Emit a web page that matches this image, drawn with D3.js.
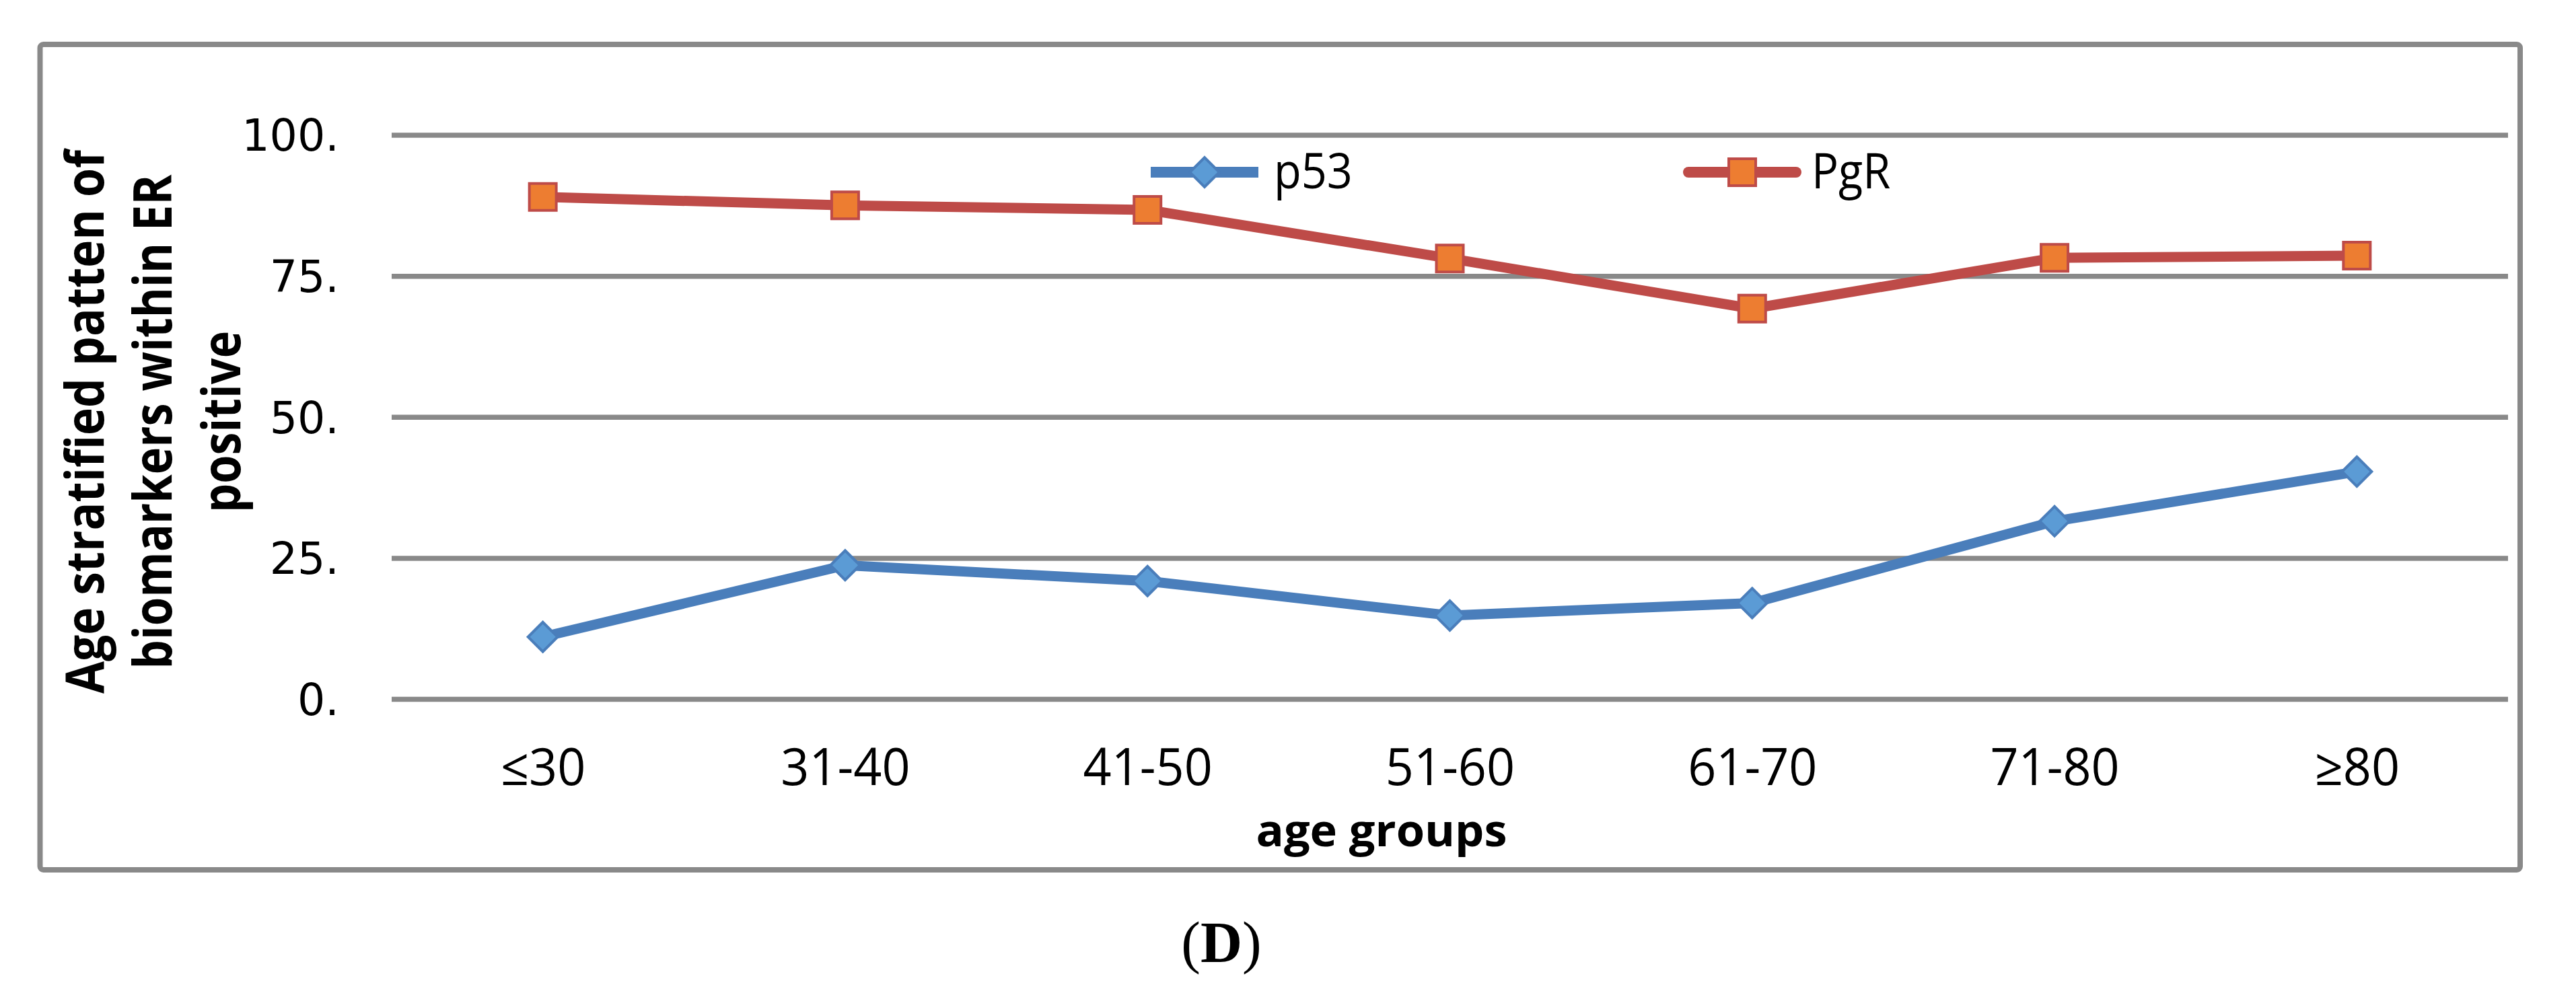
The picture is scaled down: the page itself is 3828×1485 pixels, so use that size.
<!DOCTYPE html>
<html>
<head>
<meta charset="utf-8">
<script src="https://cdn.jsdelivr.net/npm/d3@7"></script>
<style>
  body { margin: 0; background: #fff; }
  svg { display: block; }
</style>
</head>
<body>
<div id="chart"></div>
<script>
// chart values
const ageGroups = ['≤30', '31-40', '41-50', '51-60', '61-70', '71-80', '≥80'];
const p53Values = [11.0, 23.7, 20.9, 14.8, 17.0, 31.5, 40.3];
const pgrValues = [89.0, 87.5, 86.7, 78.1, 69.2, 78.2, 78.6];
const yTicks = [0, 25, 50, 75, 100];
const seriesNames = ['p53', 'PgR'];
const yTitleLines = ['Age stratified patten of', 'biomarkers within ER', 'positive'];
const xTitle = 'age groups';
const panelLabel = 'D';

const width = 3828;
const height = 1485;
const plot = {
  left: 582, right: 3727, top: 200.5, bottom: 1039,
};
const gridColor = '#898989';
const calibri = '"Open Sans", "Noto Sans", sans-serif';

const svg = d3.select('#chart')
  .append('svg')
  .attr('width', width)
  .attr('height', height)
  .attr('viewBox', [0, 0, width, height]);

svg.append('rect')
  .attr('width', width)
  .attr('height', height)
  .attr('fill', '#fff');

// chart frame
svg.append('rect')
  .attr('x', 59.5)
  .attr('y', 66)
  .attr('width', 3745 - 59.5)
  .attr('height', 1293 - 66)
  .attr('rx', 5)
  .attr('fill', 'none')
  .attr('stroke', gridColor)
  .attr('stroke-width', 8);

const x = d3.scalePoint()
  .domain(ageGroups)
  .range([plot.left, plot.right])
  .padding(0.5);

const y = d3.scaleLinear()
  .domain([0, 100])
  .range([plot.bottom, plot.top]);

// horizontal gridlines
svg.append('g')
  .attr('transform', `translate(${plot.left},0)`)
  .call(d3.axisLeft(y).tickValues(yTicks).tickSize(-(plot.right - plot.left)).tickFormat(''))
  .call((g) => g.select('.domain').remove())
  .call((g) => g.selectAll('.tick line')
    .attr('stroke', gridColor)
    .attr('stroke-width', 7.5));

// y tick labels
svg.append('g')
  .attr('transform', `translate(${plot.left},0)`)
  .call(d3.axisLeft(y).tickValues(yTicks).tickSize(0).tickPadding(78)
    .tickFormat((d) => `${d}.`))
  .call((g) => g.select('.domain').remove())
  .call((g) => g.selectAll('.tick text')
    .attr('fill', '#000')
    .attr('font-family', '"DejaVu Sans", sans-serif')
    .attr('font-size', 65)
    .attr('dy', '0.36em'));

// x tick labels
svg.append('g')
  .attr('transform', `translate(0,${plot.bottom})`)
  .call(d3.axisBottom(x).tickSize(0))
  .call((g) => g.select('.domain').remove())
  .call((g) => g.selectAll('.tick text')
    .attr('fill', '#000')
    .attr('font-family', calibri)
    .attr('font-size', 76)
    .attr('y', 128)
    .attr('dy', 0)
    .attr('transform', 'scale(0.97,1)'));

const diamond = d3.symbol(d3.symbolSquare, 31 * 31);
const square = d3.symbol(d3.symbolSquare, 40 * 40);

const series = [
  {
    name: seriesNames[0], values: p53Values, color: '#4A7EBB', fill: '#5B9BD5', symbol: diamond, rotate: 45, cap: 'butt',
  },
  {
    name: seriesNames[1], values: pgrValues, color: '#BE4B48', fill: '#ED7D31', symbol: square, rotate: 0, cap: 'round',
  },
];

const line = d3.line()
  .x((d, i) => x(ageGroups[i]))
  .y((d) => y(d));

series.forEach((s) => {
  svg.append('path')
    .datum(s.values)
    .attr('fill', 'none')
    .attr('stroke', s.color)
    .attr('stroke-width', 15)
    .attr('stroke-linejoin', 'round')
    .attr('d', line);

  svg.append('g')
    .selectAll('path')
    .data(s.values)
    .join('path')
    .attr('transform', (d, i) => `translate(${x(ageGroups[i])},${y(d)}) rotate(${s.rotate})`)
    .attr('d', s.symbol)
    .attr('fill', s.fill)
    .attr('stroke', s.color)
    .attr('stroke-width', 4);
});

// legend
const legendX = [1710, 2509];
const legendY = 256;
const legend = svg.append('g')
  .selectAll('g')
  .data(series)
  .join('g')
  .attr('transform', (d, i) => `translate(${legendX[i]},${legendY})`);

legend.append('line')
  .attr('x1', 0)
  .attr('x2', 160)
  .attr('stroke', (d) => d.color)
  .attr('stroke-width', 16)
  .attr('stroke-linecap', (d) => d.cap);

legend.append('path')
  .attr('transform', (d) => `translate(80,0) rotate(${d.rotate})`)
  .attr('d', (d) => d.symbol())
  .attr('fill', (d) => d.fill)
  .attr('stroke', (d) => d.color)
  .attr('stroke-width', 4);

legend.append('text')
  .attr('transform', 'translate(183,24) scale(0.9,1)')
  .attr('font-family', calibri)
  .attr('font-size', 74)
  .attr('fill', '#000')
  .text((d) => d.name);

// axis titles
const yTitleX = [154, 255, 357];
const yTitleLen = [808, 735, 270];
svg.append('g')
  .selectAll('text')
  .data(yTitleLines)
  .join('text')
  .attr('transform', (d, i) => `translate(${yTitleX[i]},627) rotate(-90)`)
  .attr('text-anchor', 'middle')
  .attr('font-family', calibri)
  .attr('font-weight', 'bold')
  .attr('font-size', 78)
  .attr('textLength', (d, i) => yTitleLen[i])
  .attr('lengthAdjust', 'spacingAndGlyphs')
  .attr('fill', '#000')
  .text((d) => d);

svg.append('text')
  .attr('x', 2053)
  .attr('y', 1258)
  .attr('text-anchor', 'middle')
  .attr('font-family', calibri)
  .attr('font-weight', 'bold')
  .attr('font-size', 66)
  .attr('textLength', 373)
  .attr('lengthAdjust', 'spacingAndGlyphs')
  .attr('fill', '#000')
  .text(xTitle);

// panel label under the chart
const label = svg.append('text')
  .attr('x', 1815)
  .attr('y', 1430)
  .attr('text-anchor', 'middle')
  .attr('font-family', '"Liberation Serif", serif')
  .attr('font-size', 86)
  .attr('fill', '#000');
label.append('tspan').text('(');
label.append('tspan').attr('font-weight', 'bold').text(panelLabel);
label.append('tspan').text(')');
</script>
</body>
</html>
